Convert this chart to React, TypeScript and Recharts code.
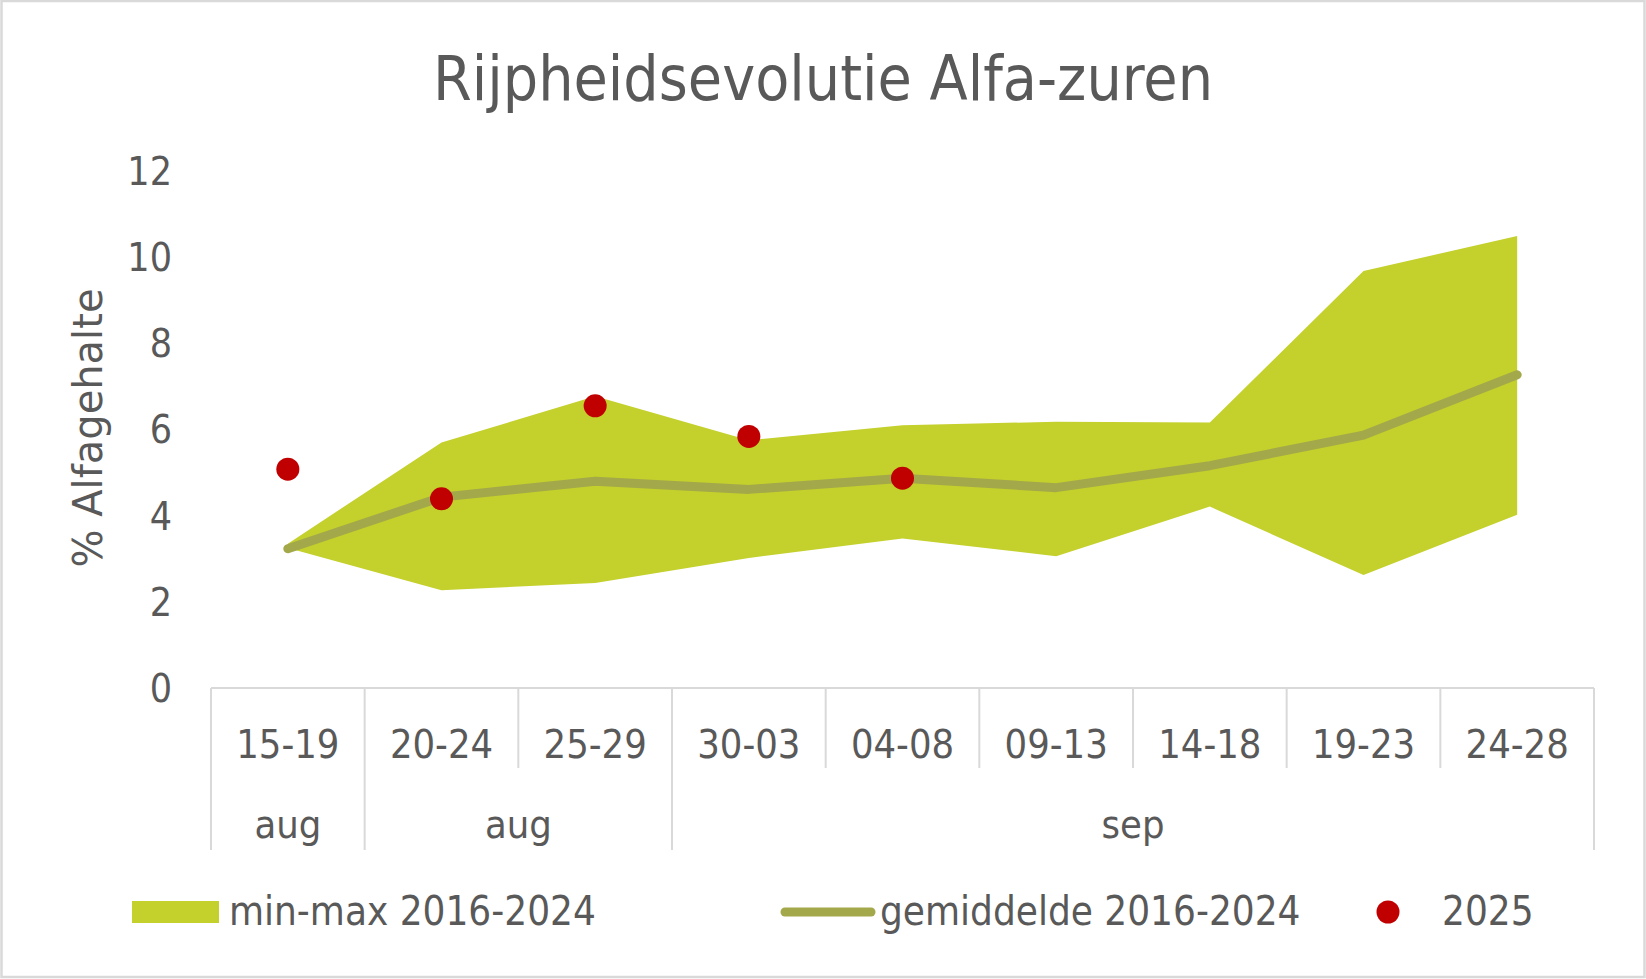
import React from 'react';
import { ComposedChart, Area, Line, XAxis, YAxis, Customized } from 'recharts';

const categories = ['15-19', '20-24', '25-29', '30-03', '04-08', '09-13', '14-18', '19-23', '24-28'];
const groupLabels = ['aug', 'aug', 'sep'];
const groupSpans = [1, 2, 6];
const minValues = [3.25, 2.27, 2.44, 3.02, 3.47, 3.06, 4.21, 2.62, 4.02];
const maxValues = [3.35, 5.7, 6.77, 5.75, 6.1, 6.18, 6.16, 9.68, 10.49];
const meanValues = [3.23, 4.43, 4.8, 4.61, 4.87, 4.65, 5.16, 5.87, 7.27];
const values2025: (number | null)[] = [5.08, 4.39, 6.55, 5.84, 4.87, null, null, null, null];
const yTicks = [0, 2, 4, 6, 8, 10, 12];

const seriesNames = ['min-max 2016-2024', 'gemiddelde 2016-2024', '2025'];
const titleText = 'Rijpheidsevolutie Alfa-zuren';
const yLabelText = '% Alfagehalte';

const W = 1646;
const H = 979;
const TEXT = '#595959';
const GRID = '#D9D9D9';
const AREA = '#C4D02C';
const MEAN = '#A3A84A';
const RED = '#C00000';
const FONT = "'DejaVu Sans Condensed', 'DejaVu Sans', sans-serif";
const FONT_WIDE = "'DejaVu Sans', sans-serif";

const data = categories.map((c, i) => ({
  cat: c,
  range: [minValues[i], maxValues[i]],
  mean: meanValues[i],
  y2025: values2025[i],
}));

const groupStart: Record<number, { label: string; span: number }> = {};
{
  let idx = 0;
  groupLabels.forEach((g, k) => {
    groupStart[idx] = { label: g, span: groupSpans[k] };
    idx += groupSpans[k];
  });
}

const CatTick = (props: any) => {
  const { x, y, payload, index, width, visibleTicksCount } = props;
  const n = visibleTicksCount || categories.length;
  const half = width / n / 2;
  const g = groupStart[index];
  const left = x - half;
  const isLast = index === n - 1;
  return (
    <g>
      <line x1={left} x2={left} y1={y} y2={y + (g ? 162 : 80)} stroke={GRID} strokeWidth={2} />
      {isLast && <line x1={x + half} x2={x + half} y1={y} y2={y + 162} stroke={GRID} strokeWidth={2} />}
      <text x={x} y={y + 70} textAnchor="middle" fontFamily={FONT} fontSize={39.5} fill={TEXT}>
        {payload.value}
      </text>
      {g && (
        <text x={left + g.span * half} y={y + 150} textAnchor="middle" fontFamily={FONT} fontSize={39.5} fill={TEXT}>
          {g.label}
        </text>
      )}
    </g>
  );
};

const Decorations = () => (
  <g>
    <rect x={1.5} y={1} width={W - 3} height={H - 3} fill="none" stroke={GRID} strokeWidth={2.5} />
    <text x={823} y={100} textAnchor="middle" fontFamily={FONT} fontSize={62} fill={TEXT}>
      {titleText}
    </text>
    <text
      x={0}
      y={0}
      transform="translate(102, 428) rotate(-90)"
      textAnchor="middle"
      fontFamily={FONT_WIDE}
      fontSize={40}
      fill={TEXT}
    >
      {yLabelText}
    </text>
    {/* legend */}
    <rect x={132} y={901} width={87} height={22} fill={AREA} />
    <text x={229} y={925} fontFamily={FONT} fontSize={40} fill={TEXT}>
      {seriesNames[0]}
    </text>
    <line x1={785} x2={871} y1={912} y2={912} stroke={MEAN} strokeWidth={9} strokeLinecap="round" />
    <text x={880} y={925} fontFamily={FONT} fontSize={40} fill={TEXT}>
      {seriesNames[1]}
    </text>
    <circle cx={1388} cy={912} r={11.5} fill={RED} />
    <text x={1442} y={925} fontFamily={FONT} fontSize={40} fill={TEXT}>
      {seriesNames[2]}
    </text>
  </g>
);

const PLOT_W = W - 211 - 52;
const BAND_HALF = PLOT_W / categories.length / 2;

export default function App() {
  return (
    <div style={{ position: 'absolute', left: 0, top: 0, width: W, height: H, background: '#fff' }}>
      <ComposedChart width={W} height={H} data={data} margin={{ top: 171, right: 52, bottom: 91, left: 111 }}>
        <XAxis
          dataKey="cat"
          interval={0}
          height={200}
          tickSize={0}
          tickMargin={0}
          tickLine={false}
          padding={{ left: BAND_HALF, right: BAND_HALF }}
          axisLine={{ stroke: GRID, strokeWidth: 2 }}
          tick={<CatTick />}
        />
        <YAxis
          domain={[0, 12]}
          ticks={yTicks}
          width={100}
          axisLine={false}
          tickLine={false}
          tickSize={0}
          tickMargin={39}
          tick={{ fontFamily: FONT, fontSize: 39, fill: TEXT }}
        />
        <Area
          dataKey="range"
          type="linear"
          fill={AREA}
          fillOpacity={1}
          stroke="none"
          isAnimationActive={false}
          activeDot={false}
          dot={false}
        />
        <Line
          dataKey="mean"
          type="linear"
          stroke={MEAN}
          strokeWidth={9}
          strokeLinecap="round"
          strokeLinejoin="round"
          dot={false}
          activeDot={false}
          isAnimationActive={false}
        />
        <Line
          dataKey="y2025"
          type="linear"
          stroke="none"
          strokeWidth={0}
          dot={{ r: 11.5, fill: RED, stroke: 'none', strokeWidth: 0 }}
          activeDot={false}
          isAnimationActive={false}
        />
        <Customized component={<Decorations />} />
      </ComposedChart>
    </div>
  );
}
